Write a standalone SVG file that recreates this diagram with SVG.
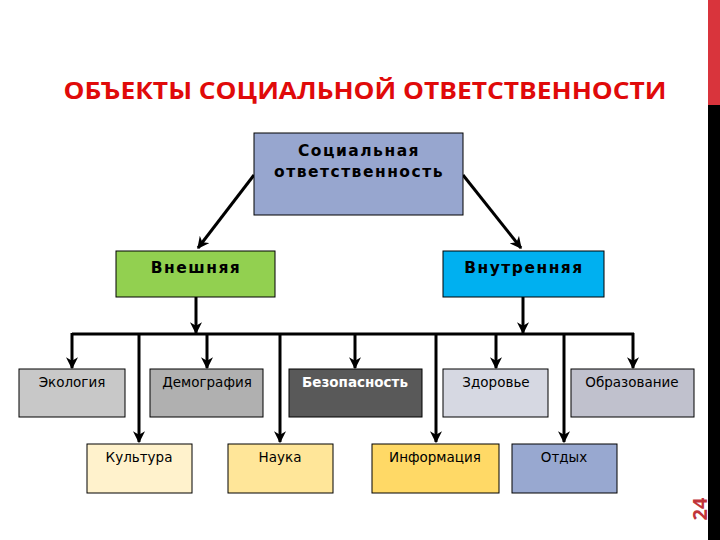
<svg xmlns="http://www.w3.org/2000/svg" width="720" height="540" viewBox="0 0 720 540">
<defs>
<marker id="ah" viewBox="0 0 10 10" refX="9" refY="5" markerWidth="4" markerHeight="4" orient="auto" markerUnits="strokeWidth">
<path d="M0,0 L10,5 L0,10 L3,5 z" fill="#000"/>
</marker>
<style>
.box{stroke:#000;stroke-width:1}
.lbl{font-family:"DejaVu Sans",sans-serif;font-size:13.5px;fill:#000;text-anchor:middle}
.blbl{font-family:"DejaVu Sans",sans-serif;font-size:15.5px;font-weight:bold;fill:#000;text-anchor:middle;letter-spacing:1.5px}
.ln{stroke:#000;stroke-width:3;fill:none}
.arr{stroke:#000;stroke-width:3;fill:none;marker-end:url(#ah)}
</style>
</defs>
<rect width="720" height="540" fill="#fff"/>
<rect x="708" y="0" width="12" height="105" fill="#d9343c"/>
<rect x="708" y="105" width="12" height="435" fill="#000"/>
<text x="0" y="0" transform="translate(707,509) rotate(-90)" font-family="'Open Sans',sans-serif" font-weight="bold" font-size="20" fill="#c0343a" text-anchor="middle">24</text>
<text x="365" y="99" font-family="'Open Sans',sans-serif" font-weight="bold" font-size="24" fill="#e00a0a" text-anchor="middle" textLength="603" lengthAdjust="spacingAndGlyphs">ОБЪЕКТЫ СОЦИАЛЬНОЙ ОТВЕТСТВЕННОСТИ</text>
<g id="connectors">
<line class="arr" x1="254" y1="175" x2="198" y2="248"/>
<line class="arr" x1="463" y1="175" x2="521" y2="248"/>
<line class="arr" x1="196" y1="297" x2="196" y2="333"/>
<line class="arr" x1="523" y1="297" x2="523" y2="333"/>
<line class="ln" x1="72" y1="334" x2="634" y2="334"/>
<line class="arr" x1="72" y1="333" x2="72" y2="368"/>
<line class="arr" x1="207" y1="333" x2="207" y2="368"/>
<line class="arr" x1="355" y1="333" x2="355" y2="368"/>
<line class="arr" x1="496" y1="333" x2="496" y2="368"/>
<line class="arr" x1="633" y1="333" x2="633" y2="368"/>
<line class="arr" x1="139" y1="333" x2="139" y2="442"/>
<line class="arr" x1="280" y1="333" x2="280" y2="442"/>
<line class="arr" x1="436" y1="333" x2="436" y2="442"/>
<line class="arr" x1="564" y1="333" x2="564" y2="442"/>
</g>
<g id="social"><rect class="box" x="254" y="133" width="209" height="82" fill="#97a6cf"/><text class="blbl" x="359" y="156">Социальная</text><text class="blbl" x="359" y="177">ответственность</text></g>
<g id="external"><rect class="box" x="116" y="251" width="159" height="46" fill="#92d050"/><text class="blbl" x="196" y="273">Внешняя</text></g>
<g id="internal"><rect class="box" x="443" y="251" width="161" height="46" fill="#00b0f0"/><text class="blbl" x="524" y="273">Внутренняя</text></g>
<g id="ecology"><rect class="box" x="19" y="369" width="106" height="48" fill="#c8c8c8"/><text class="lbl" x="72" y="387">Экология</text></g>
<g id="demography"><rect class="box" x="150" y="369" width="113" height="48" fill="#b0b0b0"/><text class="lbl" x="207" y="387">Демография</text></g>
<g id="safety"><rect class="box" x="289" y="369" width="133" height="48" fill="#595959"/><text class="lbl" x="355" y="387" font-weight="bold" style="fill:#fff">Безопасность</text></g>
<g id="health"><rect class="box" x="443" y="369" width="105" height="48" fill="#d6d8e2"/><text class="lbl" x="496" y="387">Здоровье</text></g>
<g id="education"><rect class="box" x="571" y="369" width="123" height="48" fill="#c0c1cd"/><text class="lbl" x="632" y="387">Образование</text></g>
<g id="culture"><rect class="box" x="87" y="444" width="105" height="49" fill="#fff2cc"/><text class="lbl" x="139" y="462">Культура</text></g>
<g id="science"><rect class="box" x="228" y="444" width="105" height="49" fill="#ffe699"/><text class="lbl" x="280" y="462">Наука</text></g>
<g id="information"><rect class="box" x="372" y="444" width="127" height="49" fill="#ffd966"/><text class="lbl" x="435" y="462">Информация</text></g>
<g id="rest"><rect class="box" x="512" y="444" width="105" height="49" fill="#98a8d0"/><text class="lbl" x="564" y="462">Отдых</text></g>
</svg>
